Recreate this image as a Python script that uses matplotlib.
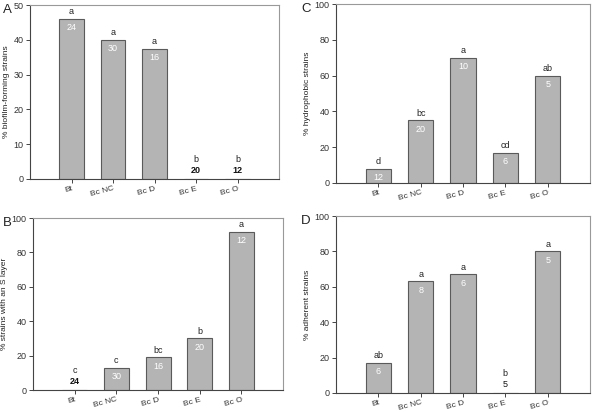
import matplotlib
matplotlib.use("Agg")
import matplotlib.pyplot as plt

plt.rcParams["font.family"] = ["Liberation Sans", "DejaVu Sans"]

# data
groups = ["Bt", "Bc NC", "Bc D", "Bc E", "Bc O"]

biofilm = [46, 40, 37.5, 0, 0]
biofilm_sig = ["a", "a", "a", "b", "b"]
biofilm_n = ["24", "30", "16", "20", "12"]

slayer = [0, 13, 19, 30, 92]
slayer_sig = ["c", "c", "bc", "b", "a"]
slayer_n = ["24", "30", "16", "20", "12"]

hydro = [8, 35, 70, 17, 60]
hydro_sig = ["d", "bc", "a", "cd", "ab"]
hydro_n = ["12", "20", "10", "6", "5"]

adher = [17, 63, 67, 0, 80]
adher_sig = ["ab", "a", "a", "b", "a"]
adher_n = ["6", "8", "6", "5", "5"]

W, H = 592, 412
fig = plt.figure(figsize=(W / 100, H / 100), dpi=100)


def px_axes(left, top, right, bottom):
    return fig.add_axes([left / W, (H - bottom) / H, (right - left) / W, (bottom - top) / H])


def panel(ax, vals, sig, n, ymax, ylab, letter, lx, bold_zero=True):
    x = list(range(len(groups)))
    ax.bar(x, vals, width=0.6, color="#b4b4b4", edgecolor="#5a5a5a", linewidth=0.8, zorder=2)
    ax.set_xlim(-1, 5)
    ax.set_ylim(0, ymax)
    ax.set_yticks(range(0, ymax + 1, ymax // 5))
    ax.set_xticks(x)
    ax.set_xticklabels(groups, rotation=15, ha="right", rotation_mode="anchor")
    ax.tick_params(axis="both", direction="out", length=3, width=0.7, colors="#444444",
                   labelcolor="#333333", labelsize=6.5, pad=1.5)
    ax.tick_params(axis="x", labelsize=6, pad=1.5)
    ax.set_ylabel(ylab, fontsize=6, color="#222222", labelpad=3)
    for s in ["left", "bottom"]:
        ax.spines[s].set_color("#444444")
        ax.spines[s].set_linewidth(0.8)
    for s in ["top", "right"]:
        ax.spines[s].set_color("#999999")
        ax.spines[s].set_linewidth(0.8)
    for xi, v, s, nn in zip(x, vals, sig, n):
        if v > 0:
            ax.annotate(nn, (xi, v), xytext=(0, -6.5), textcoords="offset points",
                        ha="center", va="center", fontsize=6.5, color="white")
            ax.annotate(s, (xi, v), xytext=(0, 5), textcoords="offset points",
                        ha="center", va="center", fontsize=6.5, color="#222222")
        else:
            ax.annotate(nn, (xi, 0), xytext=(0, 6), textcoords="offset points",
                        ha="center", va="center", fontsize=6.5, color="#111111",
                        fontweight="bold" if bold_zero else "normal")
            ax.annotate(s, (xi, 0), xytext=(0, 14), textcoords="offset points",
                        ha="center", va="center", fontsize=6.5, color="#222222")
    pos = ax.get_position()
    fig.text(lx / W, pos.y1 - 5 / H, letter, fontsize=9.5, ha="left", va="center",
             color="#222222")


axA = px_axes(30, 5, 279, 179)
panel(axA, biofilm, biofilm_sig, biofilm_n, 50, "% biofilm-forming strains", "A", 3)

axB = px_axes(33, 218, 283, 390)
panel(axB, slayer, slayer_sig, slayer_n, 100, "% strains with an S layer", "B", 3)

axC = px_axes(336, 4, 590, 183)
panel(axC, hydro, hydro_sig, hydro_n, 100, "% hydrophobic strains", "C", 301)

axD = px_axes(336, 216, 590, 393)
panel(axD, adher, adher_sig, adher_n, 100, "% adherent strains", "D", 301, bold_zero=False)

fig.savefig("out.png", dpi=100)
